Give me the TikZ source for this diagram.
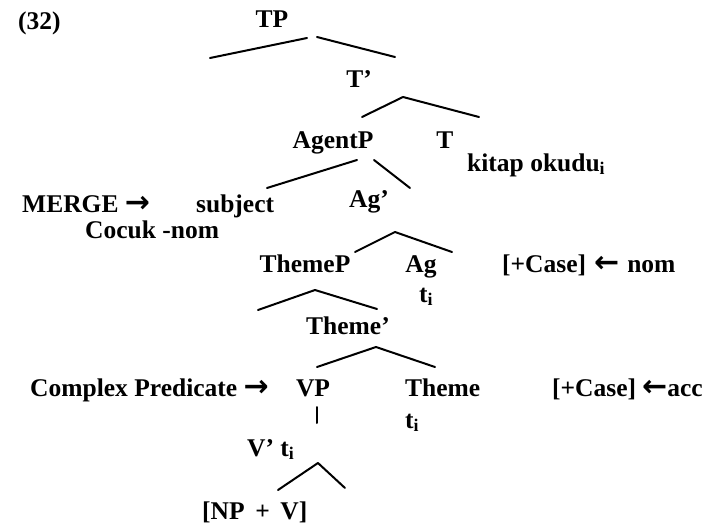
\documentclass[tikz,border=0pt]{standalone}
\usepackage{fontspec}
\setmainfont{Liberation Serif}
\newfontfamily\arrowfont{DejaVu Sans}
\newcommand\myrarr{\smash{\arrowfont\bfseries\fontsize{30}{30}\selectfont →}}
\newcommand\mylarr{\smash{\arrowfont\bfseries\fontsize{30}{30}\selectfont ←}}
\begin{document}
\begin{tikzpicture}[x=1pt,y=-1pt,
  lbl/.style={anchor=base,inner sep=0pt,font=\fontsize{25.5}{29}\selectfont\bfseries},
  lblw/.style={lbl,anchor=base west},
  branch/.style={line width=2pt,line cap=round,line join=round}]
\useasboundingbox (0,0) rectangle (716,525);
% labels
\node[lblw] (ex) at (18,29) {(32)};
\node[lbl] (tp) at (272,27) {TP};
\node[lbl] (tbar) at (359,87) {T’};
\node[lbl] (agentp) at (333,148) {AgentP};
\node[lbl] (t) at (445,148) {T};
\node[lblw] (kitap) at (467,171) {kitap okudu\textsubscript{i}};
\node[lblw] (merge) at (22,212) {MERGE \myrarr};
\node[lblw] (subject) at (196,212) {subject};
\node[lblw] (cocuk) at (85,238) {Cocuk -nom};
\node[lbl] (agbar) at (369,207) {Ag’};
\node[lbl] (themep) at (305,272) {ThemeP};
\node[lbl] (ag) at (421,272) {Ag};
\node[lblw] (casenom) at (502,272) {[+Case]\hspace{8pt}\mylarr\hspace{8pt}nom};
\node[lbl] (agt) at (426,302) {t\textsubscript{i}};
\node[lbl] (themebar) at (348,334) {Theme’};
\node[lblw] (cpred) at (30,396) {Complex Predicate \myrarr};
\node[lbl] (vp) at (313,396) {VP};
\node[lblw] (theme) at (405,396) {Theme};
\node[lblw] (caseacc) at (552,396) {[+Case]\hspace{6pt}\mylarr acc};
\node[lblw] (themet) at (405,428) {t\textsubscript{i}};
\node[lblw] (vbar) at (247,456) {V’ t\textsubscript{i}};
\node[lblw] (npv) at (202,519) {[NP \,+\, V]};
% branch end points
\coordinate (tpa) at (307,38);   \coordinate (tpl) at (210,58);
\coordinate (tpb) at (317,37);   \coordinate (tpr) at (395,57);
\coordinate (tba) at (403,97);   \coordinate (tbl) at (362,117); \coordinate (tbr) at (479,117);
\coordinate (apa) at (357,160);  \coordinate (apl) at (267,188);
\coordinate (apb) at (374,160);  \coordinate (apr) at (410,188);
\coordinate (aga) at (395,232);  \coordinate (agl) at (355,252); \coordinate (agr) at (452,252);
\coordinate (tha) at (315,290);  \coordinate (thl) at (258,310); \coordinate (thr) at (377,309);
\coordinate (tma) at (376,347);  \coordinate (tml) at (317,367); \coordinate (tmr) at (435,367);
\coordinate (vpt) at (317,407);  \coordinate (vpb) at (317,423);
\coordinate (vba) at (318,463);  \coordinate (vbl) at (278,490); \coordinate (vbr) at (345,488);
% branches
\draw[branch] (tpa) -- (tpl);
\draw[branch] (tpb) -- (tpr);
\draw[branch] (tbl) -- (tba) -- (tbr);
\draw[branch] (apa) -- (apl);
\draw[branch] (apb) -- (apr);
\draw[branch] (agl) -- (aga) -- (agr);
\draw[branch] (thl) -- (tha) -- (thr);
\draw[branch] (tml) -- (tma) -- (tmr);
\draw[branch] (vpt) -- (vpb);
\draw[branch] (vbl) -- (vba) -- (vbr);
\end{tikzpicture}
\end{document}
